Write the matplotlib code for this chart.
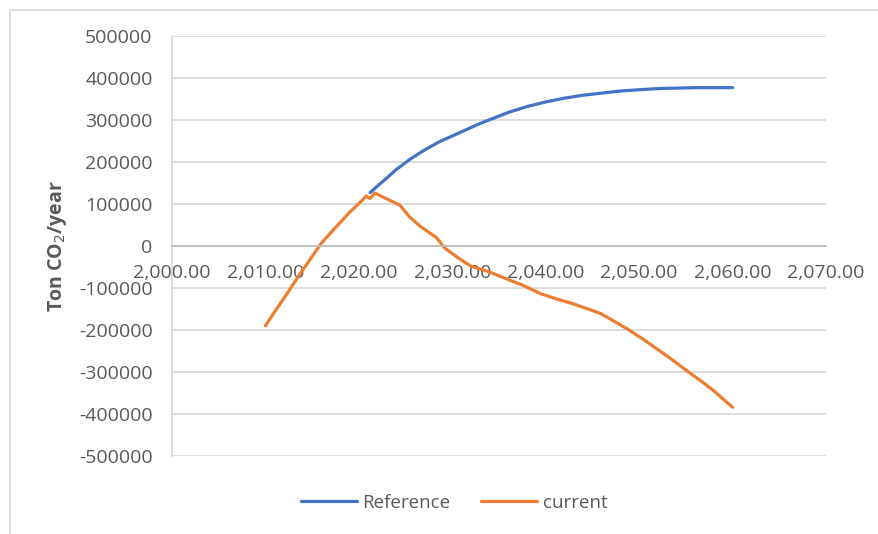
import matplotlib.pyplot as plt
from matplotlib.patches import Rectangle
from matplotlib.ticker import FuncFormatter, MultipleLocator

# values
ref_years = [2021.2, 2022, 2023, 2024, 2025.5, 2027, 2028.5, 2030, 2031.5, 2033, 2034.5,
             2036, 2038, 2040, 2042, 2044, 2046, 2048, 2050, 2052.2, 2056, 2060]
ref_values = [127000, 143000, 162000, 182000, 207000, 228000, 247000, 262000, 277000, 292000, 305000,
              318000, 332000, 343000, 352000, 359000, 364000, 369000, 372000, 375000, 377000, 377000]

cur_years = [2010, 2011, 2012, 2013, 2014, 2015, 2016, 2017, 2018, 2019, 2020,
             2020.8, 2021.2, 2021.7, 2023, 2024.4, 2025.4, 2026.5, 2028.3, 2029.2,
             2030.8, 2032, 2034, 2036, 2037.5, 2039.4, 2041, 2043, 2045.8, 2047,
             2048.7, 2050.3, 2051.9, 2053.5, 2055.1, 2056.6, 2058, 2060]
cur_values = [-190000, -156000, -124000, -90000, -57000, -25000, 7000, 32000, 56000, 80000, 101000,
              119000, 113000, 126000, 112000, 97000, 70000, 48000, 20000, -5000,
              -31000, -48000, -62000, -80000, -93000, -113000, -125000, -138000, -160000, -175000,
              -197000, -220000, -245000, -270000, -297000, -321000, -345000, -384000]

plt.rcParams['font.family'] = ['Open Sans', 'DejaVu Sans']
grey = "#595959"

fig = plt.figure(figsize=(8.79, 5.34), dpi=100)
ax = fig.add_axes([172/879, 1-456/534, (826-172)/879, (456-36)/534])

# outer chart border like the spreadsheet chart area
fig.patches.append(Rectangle((10/879, -0.1), 1.1, 1.1 - 10/534,
                             transform=fig.transFigure, fill=False,
                             edgecolor="#d9d9d9", linewidth=1.2))

ax.plot(ref_years, ref_values, color="#4472C4", linewidth=2.3, label="Reference",
        solid_capstyle="round", solid_joinstyle="round")
ax.plot(cur_years, cur_values, color="#ED7D31", linewidth=2.3, label="current",
        solid_capstyle="round", solid_joinstyle="round")

ax.set_xlim(2000, 2070)
ax.set_ylim(-500000, 500000)
ax.xaxis.set_major_locator(MultipleLocator(10))
ax.yaxis.set_major_locator(MultipleLocator(100000))
ax.xaxis.set_major_formatter(FuncFormatter(lambda v, p: f"{v:,.2f}"))
ax.yaxis.set_major_formatter(FuncFormatter(lambda v, p: f"{int(v)}"))

ax.grid(axis="y", color="#d9d9d9", linewidth=1.3)
ax.set_axisbelow(True)
for s in ["top", "right"]:
    ax.spines[s].set_visible(False)
ax.spines["left"].set_color("#d9d9d9")
ax.spines["left"].set_linewidth(1.3)
ax.spines["bottom"].set_position(("data", 0))
ax.spines["bottom"].set_color("#bfbfbf")
ax.spines["bottom"].set_linewidth(1.3)

ax.tick_params(axis="both", length=0, labelsize=14, labelcolor=grey)
ax.tick_params(axis="x", pad=13)
ax.tick_params(axis="y", pad=14)

ax.set_ylabel("Ton CO$_2$/year", fontsize=14, fontweight="bold", color=grey, labelpad=7)

fig.legend(loc="center", bbox_to_anchor=(454/879, 1-503/534), ncol=2, frameon=False,
           fontsize=13.5, labelcolor=grey, handlelength=3.0, handletextpad=0.3,
           columnspacing=1.6)

plt.savefig("out.png", dpi=100)
